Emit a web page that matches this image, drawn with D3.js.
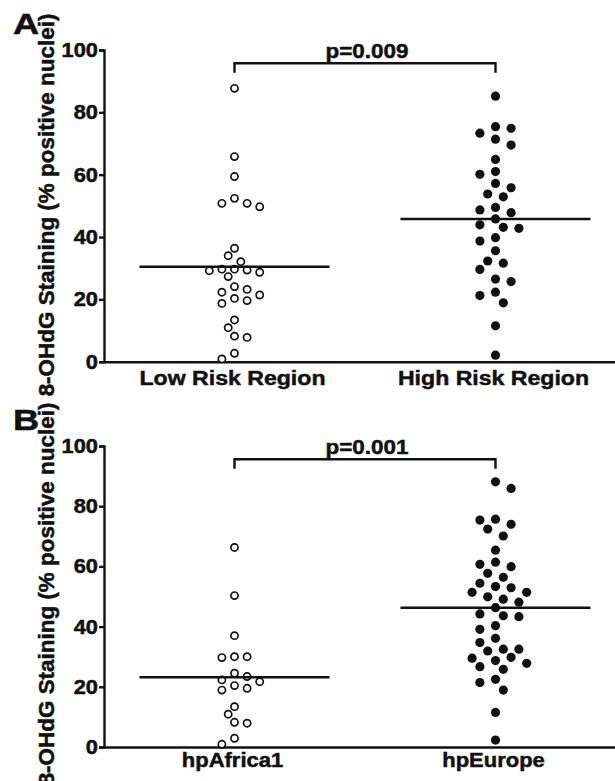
<!DOCTYPE html>
<html lang="en">
  <head>
    <meta charset="UTF-8" />
    <title>8-OHdG Staining</title>
    <style>
      body {
        margin: 0;
        background: #fff;
      }
      svg text {
        font-family: "Liberation Sans", Arial, sans-serif;
        font-weight: bold;
        fill: #111;
        stroke: #111;
        stroke-width: 0.5px;
      }
      .axis path,
      .axis line {
        stroke: #111;
        stroke-width: 2.4px;
      }
    </style>
  </head>
  <body>
    <svg width="615" height="781"></svg>

    <script src="https://d3js.org/d3.v7.min.js"></script>
    <script>
      // panel A
      const catsA = ["Low Risk Region", "High Risk Region"];
      const lowRisk = [87.7, 65.8, 59.4, 52.4, 50.8, 50.8, 49.7, 36.4, 34.0, 32.1, 29.7, 29.7, 29.4, 29.2, 28.7,
        27.3, 24.1, 23.2, 22.3, 21.4, 20.3, 19.6, 18.7, 13.4, 10.9, 8.2, 7.8, 2.7, 0.9];
      const highRisk = [85.2, 75.4, 74.9, 73.3, 71.4, 69.5, 64.9, 61.0, 60.1, 57.2, 55.8, 53.8, 52.9, 49.5, 48.7,
        47.8, 45.8, 43.9, 43.1, 42.8, 39.8, 38.7, 35.6, 32.3, 31.6, 29.6, 26.5, 25.7, 22.3, 21.2, 18.9, 11.5, 2.1];
      const medianA = [30.5, 45.8];
      const pA = "p=0.009";

      // panel B
      const catsB = ["hpAfrica1", "hpEurope"];
      const hpAfrica1 = [66.3, 50.3, 37.0, 30.0, 30.0, 29.7, 24.5, 23.4, 22.3, 21.7, 20.4, 19.5, 18.9, 13.4, 10.9,
        8.2, 7.9, 2.9, 0.9];
      const hpEurope = [88.1, 85.9, 75.7, 75.4, 74.0, 72.4, 70.1, 65.4, 61.4, 60.7, 59.9, 57.7, 56.4, 54.4, 53.3,
        52.9, 51.4, 51.4, 49.9, 49.1, 48.1, 46.3, 44.2, 43.6, 43.3, 40.3, 39.1, 36.1, 34.7, 32.5, 32.5, 31.9, 29.8,
        29.5, 28.7, 27.8, 26.7, 25.8, 22.5, 21.4, 18.9, 11.5, 2.3];
      const medianB = [23.2, 46.3];
      const pB = "p=0.001";

      const yTicks = [0, 20, 40, 60, 80, 100];
      const yLabel = "8-OHdG Staining (% positive nuclei)";

      const svg = d3.select("svg");

      // text stretched a little along its reading direction, like the original figure
      function txt(g, str, x, y, size, anchor, rot = 0, sx = 1.1) {
        return g
          .append("text")
          .attr("transform", `translate(${x},${y}) rotate(${rot}) scale(${sx},1)`)
          .attr("text-anchor", anchor)
          .style("font-size", size + "px")
          .text(str);
      }

      // simple beeswarm: slots of `step` px, nearest free slot to the centre
      function swarm(values, y, step, dmin) {
        const order = d3.range(values.length).sort((a, b) => values[b] - values[a]);
        const placed = [];
        let bal = 0;
        order.forEach((i) => {
          const py = y(values[i]);
          for (let k = 0; k < 50; k++) {
            const cands = k === 0 ? [0] : bal <= 0 ? [k * step, -k * step] : [-k * step, k * step];
            const ok = cands.find((dx) =>
              placed.every((p) => Math.hypot(p.dx - dx, p.y - py) >= dmin)
            );
            if (ok !== undefined) {
              placed.push({ v: values[i], dx: ok, y: py });
              bal += Math.sign(ok);
              break;
            }
          }
        });
        return placed;
      }

      function drawPanel(o) {
        const g = svg.append("g");
        const x = d3.scalePoint().domain(o.cats).range([104, 626]).padding(0.5);
        const y = d3.scaleLinear().domain([0, 100]).range([o.y0, o.y100]);

        // y axis
        g.append("g")
          .attr("class", "axis")
          .attr("transform", "translate(104,0)")
          .call(d3.axisLeft(y).tickValues(yTicks).tickSize(5).tickSizeOuter(5).tickFormat(""));
        yTicks.forEach((t) => txt(g, t, 98, y(t) + 7, 19.5, "end", 0, 1.12));

        // x axis
        g.append("g")
          .attr("class", "axis")
          .attr("transform", `translate(0,${o.y0})`)
          .call(d3.axisBottom(x).tickSize(0).tickSizeOuter(0).tickFormat(""));
        o.cats.forEach((c) => txt(g, c, x(c) - 2, o.catY, o.catSize, "middle", 0, 1.1));

        // points: open circles for the first group, filled for the second
        o.series.forEach((vals, si) => {
          const cx = x(o.cats[si]);
          const open = si === 0;
          const pts = open ? swarm(vals, y, 6.3, 9.6) : swarm(vals, y, 7.8, 11.2);
          g.selectAll(null)
            .data(pts)
            .join("circle")
            .attr("cx", (d) => cx + d.dx)
            .attr("cy", (d) => d.y)
            .attr("r", open ? 3.6 : 4.6)
            .attr("fill", open ? "#fff" : "#111")
            .attr("stroke", open ? "#111" : "none")
            .attr("stroke-width", 1.7);
        });

        // median lines
        g.selectAll(null)
          .data(o.medians)
          .join("line")
          .attr("x1", (d, i) => x(o.cats[i]) - 95)
          .attr("x2", (d, i) => x(o.cats[i]) + 95)
          .attr("y1", (d) => y(d))
          .attr("y2", (d) => y(d))
          .attr("stroke", "#111")
          .attr("stroke-width", 2.5);

        // significance bracket
        const bx1 = x(o.cats[0]),
          bx2 = x(o.cats[1]),
          by = y(100) + 13.3;
        g.append("path")
          .attr("d", `M${bx1},${by + 9.5} V${by} H${bx2} V${by + 9.5}`)
          .attr("fill", "none")
          .attr("stroke", "#111")
          .attr("stroke-width", 2.4);
        txt(g, o.p, (bx1 + bx2) / 2 + 2, by - 5, 21, "middle", 0, 1.07);

        // panel letter and y label
        txt(g, o.letter, 13, o.letterY, 29, "start", 0, 1.25);
        txt(g, yLabel, 54, o.labelY, 22, "middle", -90, 1.02);
      }

      drawPanel({
        cats: catsA,
        series: [lowRisk, highRisk],
        medians: medianA,
        p: pA,
        y0: 361.7,
        y100: 50,
        catY: 385,
        catSize: 21,
        letter: "A",
        letterY: 34,
        labelY: 205,
      });

      drawPanel({
        cats: catsB,
        series: [hpAfrica1, hpEurope],
        medians: medianB,
        p: pB,
        y0: 747,
        y100: 446,
        catY: 767,
        catSize: 20,
        letter: "B",
        letterY: 430,
        labelY: 594,
      });
    </script>
  </body>
</html>
